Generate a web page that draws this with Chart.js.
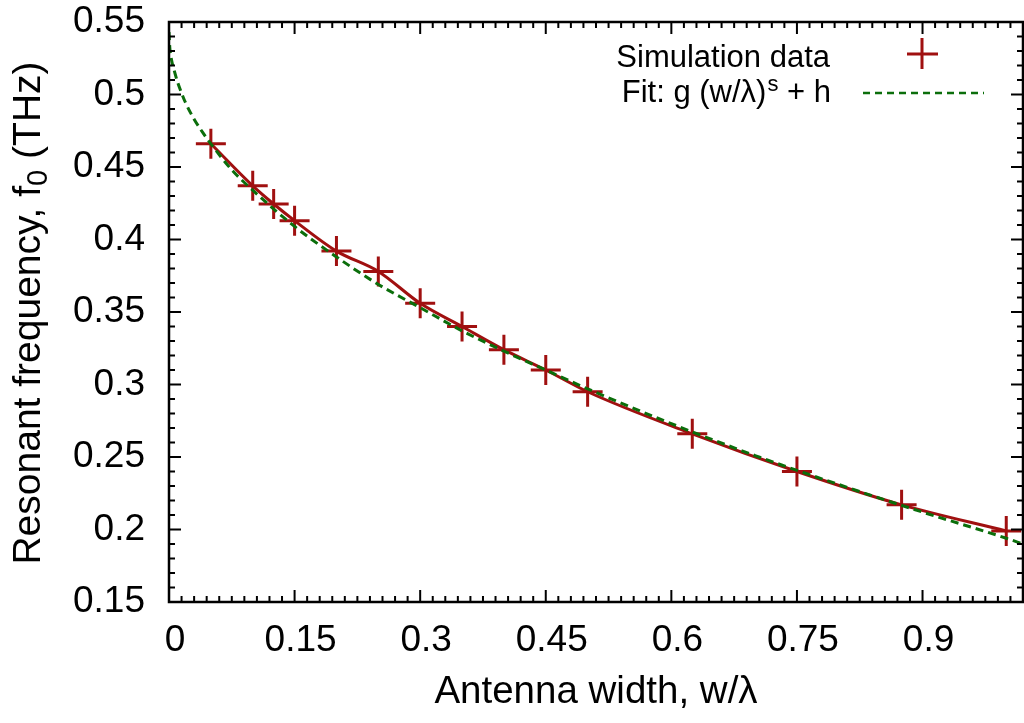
<!DOCTYPE html>
<html lang="en">
<head>
<meta charset="UTF-8">
<title>Resonant frequency vs antenna width</title>
<script src="https://cdn.jsdelivr.net/npm/chart.js"></script>
<style>
  * { margin: 0; padding: 0; box-sizing: border-box; }
  body { background: #fff; overflow: hidden; }
  .wrap { width: 1024px; height: 723px; position: relative; }
</style>
</head>
<body>
<div class="wrap"><canvas id="chart"></canvas></div>
<script>
// simulation points (w/lambda, f0 in THz)
const simX = [0.05, 0.1, 0.125, 0.15, 0.2, 0.25, 0.3, 0.35, 0.4, 0.45, 0.5, 0.625, 0.75, 0.875, 1.0];
const simY = [0.466, 0.437, 0.4245, 0.413, 0.392, 0.378, 0.356, 0.340, 0.324, 0.310, 0.295, 0.266, 0.240, 0.217, 0.199];

// fit curve
const fitX = [0, 0.001, 0.003, 0.006, 0.01, 0.015, 0.02, 0.03, 0.04, 0.05, 0.075, 0.1, 0.15, 0.2, 0.25, 0.3, 0.35, 0.4, 0.45, 0.5, 0.6, 0.7, 0.8, 0.9, 1.0, 1.02];
const fitY = [0.543, 0.532, 0.524, 0.517, 0.509, 0.501, 0.494, 0.483, 0.474, 0.466, 0.448, 0.434, 0.409, 0.388, 0.369, 0.353, 0.337, 0.323, 0.310, 0.297, 0.273, 0.251, 0.231, 0.212, 0.194, 0.190];

const xTicks = [0, 0.15, 0.3, 0.45, 0.6, 0.75, 0.9];
const yTicks = [0.15, 0.2, 0.25, 0.3, 0.35, 0.4, 0.45, 0.5, 0.55];

const FONT = "'Liberation Sans', Arial, sans-serif";
const RED = '#a01010';
const GREEN = '#0b6e0b';

const fmt = v => String(+Number(v).toFixed(3));
const pts = (xs, ys) => xs.map((x, i) => ({ x: x, y: ys[i] }));

// gnuplot style border with inward major/minor ticks on all four sides
const frame = {
    id: 'frame',
    afterDatasetsDraw(chart) {
        const { ctx: c, chartArea: a, scales: { x, y } } = chart;
        c.save();
        c.strokeStyle = '#000';
        c.lineWidth = 2;
        c.beginPath();
        for (let i = 0; i <= 68; i++) {
            const px = x.getPixelForValue(i * 0.015);
            const len = i % 10 === 0 ? 12 : 6;
            c.moveTo(px, a.bottom); c.lineTo(px, a.bottom - len);
            c.moveTo(px, a.top); c.lineTo(px, a.top + len);
        }
        for (let i = 0; i <= 40; i++) {
            const py = y.getPixelForValue(0.15 + i * 0.01);
            const len = i % 5 === 0 ? 12 : 6;
            c.moveTo(a.left, py); c.lineTo(a.left + len, py);
            c.moveTo(a.right, py); c.lineTo(a.right - len, py);
        }
        c.stroke();
        c.lineWidth = 2.5;
        c.strokeRect(a.left, a.top, a.right - a.left, a.bottom - a.top);
        c.restore();
    }
};

// y title with subscript, and the key in the top right corner
const labels = {
    id: 'labels',
    afterDraw(chart) {
        const c = chart.ctx;
        c.save();
        c.fillStyle = '#000';
        c.textBaseline = 'alphabetic';

        c.save();
        c.translate(40, 313);
        c.rotate(-Math.PI / 2);
        const big = '39px ' + FONT, small = '29px ' + FONT;
        c.font = big;
        const w1 = c.measureText('Resonant frequency, f').width;
        const w3 = c.measureText(' (THz)').width;
        c.font = small;
        const w2 = c.measureText('0').width;
        let x0 = -(w1 + w2 + w3) / 2;
        c.textAlign = 'left';
        c.font = big; c.fillText('Resonant frequency, f', x0, 0);
        c.font = small; c.fillText('0', x0 + w1, 7);
        c.font = big; c.fillText(' (THz)', x0 + w1 + w2, 0);
        c.restore();

        // key
        const kf = '31px ' + FONT, sf = '22px ' + FONT;
        c.font = kf;
        c.textAlign = 'right';
        c.fillText('Simulation data', 830, 67);
        c.textAlign = 'left';
        const a1 = c.measureText('Fit: g (w/λ)').width;
        const a3 = c.measureText(' + h').width;
        c.font = sf;
        const a2 = c.measureText('s').width;
        let kx = 830 - (a1 + a2 + a3);
        c.font = kf; c.fillText('Fit: g (w/λ)', kx, 102);
        c.font = sf; c.fillText('s', kx + a1 + 1, 91);
        c.font = kf; c.fillText(' + h', kx + a1 + a2 + 1, 102);

        c.strokeStyle = RED;
        c.lineWidth = 3;
        c.beginPath();
        c.moveTo(907, 54); c.lineTo(938, 54);
        c.moveTo(922, 38); c.lineTo(922, 69);
        c.stroke();

        c.strokeStyle = GREEN;
        c.lineWidth = 2.5;
        c.setLineDash([7, 5]);
        c.beginPath();
        c.moveTo(863, 93); c.lineTo(984, 93);
        c.stroke();
        c.restore();
    }
};

new Chart(document.getElementById('chart'), {
    type: 'line',
    data: {
        datasets: [
            {
                label: 'Fit',
                data: pts(fitX, fitY),
                borderColor: GREEN,
                borderWidth: 3,
                borderDash: [8, 5],
                pointRadius: 0,
                cubicInterpolationMode: 'monotone',
                fill: false
            },
            {
                label: 'Simulation data',
                data: pts(simX, simY),
                borderColor: RED,
                borderWidth: 3,
                pointStyle: 'cross',
                pointRadius: 15,
                pointBorderWidth: 3,
                pointBorderColor: RED,
                cubicInterpolationMode: 'monotone',
                fill: false
            }
        ]
    },
    options: {
        responsive: true,
        maintainAspectRatio: false,
        animation: false,
        layout: { autoPadding: false, padding: { top: 22, right: 1, left: 0, bottom: 0 } },
        plugins: { legend: { display: false }, tooltip: { enabled: false } },
        scales: {
            x: {
                type: 'linear',
                min: 0,
                max: 1.02,
                afterFit: s => { s.height = 121; s.paddingLeft = 0; s.paddingRight = 0; },
                afterBuildTicks: s => { s.ticks = xTicks.map(v => ({ value: v })); },
                grid: { display: false, drawTicks: false },
                border: { display: false },
                ticks: {
                    padding: 17, labelOffset: 6, color: '#000', maxRotation: 0, autoSkip: false,
                    font: { family: FONT, size: 37 }, callback: fmt
                },
                title: {
                    display: true, text: 'Antenna width, w/λ', color: '#000',
                    font: { family: FONT, size: 38.5, lineHeight: 1 },
                    padding: { top: 0, bottom: 11 }
                }
            },
            y: {
                type: 'linear',
                min: 0.15,
                max: 0.55,
                afterFit: s => { s.width = 169; s.paddingTop = 0; s.paddingBottom = 0; },
                afterBuildTicks: s => { s.ticks = yTicks.map(v => ({ value: v })); },
                grid: { display: false, drawTicks: false },
                border: { display: false },
                ticks: {
                    padding: 24, color: '#000', autoSkip: false,
                    font: { family: FONT, size: 37 }, callback: fmt
                }
            }
        }
    },
    plugins: [frame, labels]
});
</script>
</body>
</html>
